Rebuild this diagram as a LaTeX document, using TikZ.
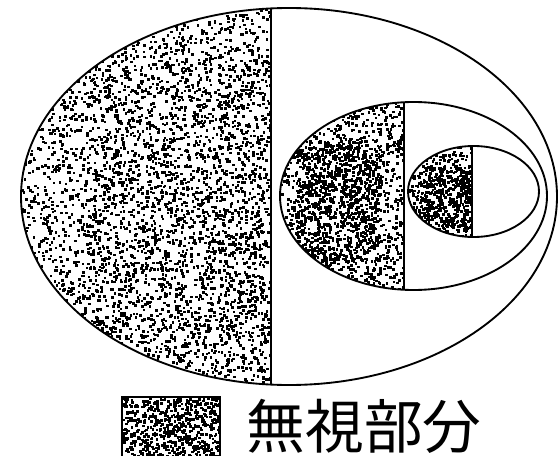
\documentclass[tikz,border=0pt]{standalone}
\usepackage{fontspec}
\newfontfamily\jpfont{Noto Sans CJK JP}

% random dots in a box: x0,y0,x1,y1,count
\newcommand\stipple[5]{%
  \foreach \i in {1,...,#5}{%
    \pgfmathsetmacro\px{#1+rnd*(#3-#1)}%
    \pgfmathsetmacro\py{#2+rnd*(#4-#2)}%
    \fill (\px,\py) rectangle ++(2.6,2.6);
  }%
}

\begin{document}
\begin{tikzpicture}[x=0.75pt,y=-0.75pt,line width=1.4pt]
\useasboundingbox (0,0) rectangle (560,456);
\clip (0,0) rectangle (560,456);
\pgfmathsetseed{4711}
\coordinate (bigc) at (289,196.5);
\coordinate (midc) at (413.5,196);
\coordinate (smallc) at (473.5,191.5);
% ---------- stippled halves ----------
\begin{scope}
  \clip (bigc) ellipse [x radius=268,y radius=188.5];
  \clip (0,0) rectangle (271,400);
  \stipple{20}{8}{271}{386}{3400}
  \stipple{80}{40}{265}{370}{1000}
\end{scope}
\begin{scope}
  \clip (midc) ellipse [x radius=133.5,y radius=94];
  \clip (270,0) rectangle (404,400);
  \stipple{280}{102}{404}{290}{1200}
  \stipple{295}{140}{380}{260}{700}
\end{scope}
\begin{scope}
  \clip (smallc) ellipse [x radius=65.5,y radius=45.5];
  \clip (400,0) rectangle (472,400);
  \stipple{408}{146}{472}{237}{450}
  \stipple{420}{165}{472}{230}{250}
\end{scope}
% ---------- outlines ----------
\draw (bigc) ellipse [x radius=268,y radius=188.5];
\draw (midc) ellipse [x radius=133.5,y radius=94];
\draw (smallc) ellipse [x radius=65.5,y radius=45.5];
\begin{scope}
  \clip (bigc) ellipse [x radius=268,y radius=188.5];
  \draw (271,0) -- (271,400);
\end{scope}
\begin{scope}
  \clip (midc) ellipse [x radius=133.5,y radius=94];
  \draw (404,0) -- (404,400);
\end{scope}
\begin{scope}
  \clip (smallc) ellipse [x radius=65.5,y radius=45.5];
  \draw (472,0) -- (472,400);
\end{scope}
% ---------- legend ----------
\begin{scope}
  \clip (122,397) rectangle (220,470);
  \stipple{122}{397}{220}{460}{650}
\end{scope}
\draw (122,470) |- (220,397) -- (220,470);
\node[anchor=west,inner sep=0pt,font=\jpfont\fontsize{44}{44}\selectfont]
  (legendtext) at (246,426) {無視部分};
\end{tikzpicture}
\end{document}
